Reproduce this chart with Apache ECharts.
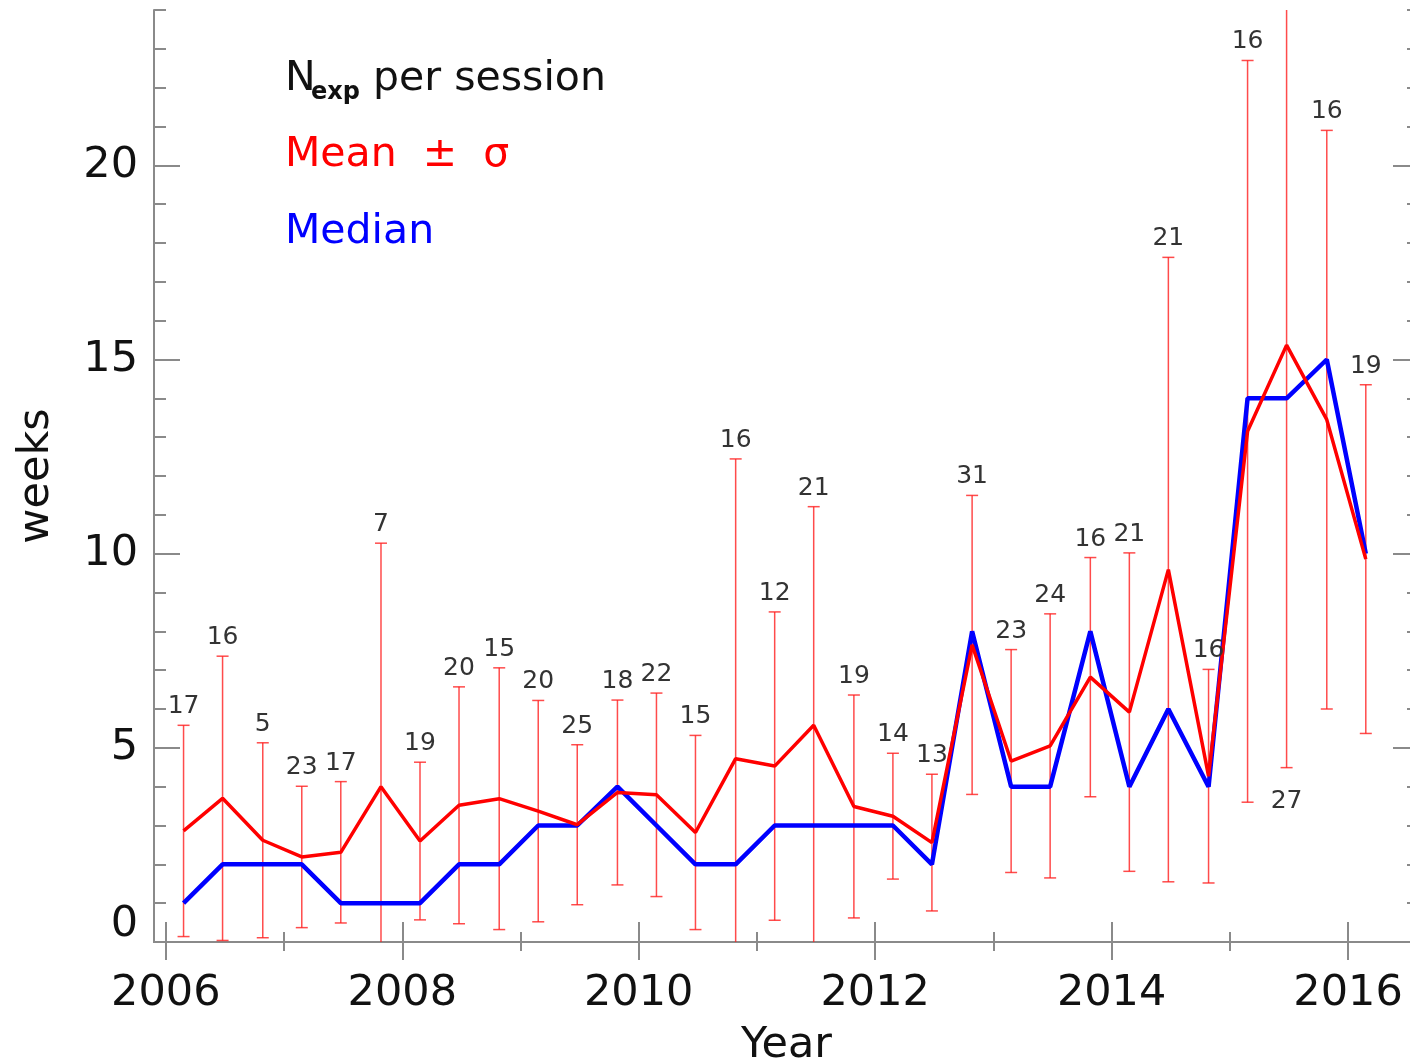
<!DOCTYPE html>
<html>
<head>
<meta charset="utf-8">
<script src="https://cdn.jsdelivr.net/npm/echarts@6/dist/echarts.min.js"></script>
<style>
html, body { margin: 0; padding: 0; background: #ffffff; }
#chart { width: 1410px; height: 1062px; }
</style>
</head>
<body>
<div id="chart"></div>
<script>
// Session dates (decimal years, centre of each 4-month session)
const sessionYears = [2006.15, 2006.48, 2006.82, 2007.15, 2007.48, 2007.82, 2008.15, 2008.48, 2008.82,
  2009.15, 2009.48, 2009.82, 2010.15, 2010.48, 2010.82, 2011.15, 2011.48, 2011.82, 2012.15, 2012.48,
  2012.82, 2013.15, 2013.48, 2013.82, 2014.15, 2014.48, 2014.82, 2015.15, 2015.48, 2015.82, 2016.15];
// Mean waiting time in weeks
const meanWeeks = [2.86, 3.70, 2.62, 2.19, 2.31, 4.00, 2.60, 3.52, 3.69, 3.37, 3.02, 3.85, 3.79, 2.82,
  4.72, 4.53, 5.58, 3.49, 3.24, 2.56, 7.65, 4.66, 5.05, 6.82, 5.92, 9.59, 4.27, 13.15, 15.37, 13.45, 9.86];
// Standard deviation in weeks
const sigmaWeeks = [2.72, 3.66, 2.51, 1.82, 1.82, 6.27, 2.03, 3.05, 3.37, 2.85, 2.06, 2.38, 2.62, 2.50,
  7.72, 3.97, 5.63, 2.87, 1.62, 1.76, 3.85, 2.87, 3.40, 3.08, 4.10, 8.04, 2.75, 9.55, 10.88, 7.45, 4.49];
// Median waiting time in weeks
const medianWeeks = [1, 2, 2, 2, 1, 1, 1, 2, 2, 3, 3, 4, 3, 2, 2, 3, 3, 3, 3, 2, 8, 4, 4, 8, 4, 6, 4, 14, 14, 15, 10];
// Number of exposures per session
const nExp = [17, 16, 5, 23, 17, 7, 19, 20, 15, 20, 25, 18, 22, 15, 16, 12, 21, 19, 14, 13, 31, 23, 24, 16,
  21, 21, 16, 16, 27, 16, 19];

// Tick positions
const xMajorTicks = [2006, 2008, 2010, 2012, 2014, 2016];
const xMinorTicks = [2007, 2009, 2011, 2013, 2015];
const yMajorTicks = [0, 5, 10, 15, 20];
const yMinorTicks = [1, 2, 3, 4, 6, 7, 8, 9, 11, 12, 13, 14, 16, 17, 18, 19, 21, 22, 23, 24];

const X_MIN = 2005.9, X_MAX = 2016.6, Y_MIN = 0, Y_MAX = 24;
const AXIS_GRAY = '#8a8a8a';
const FONT = '"DejaVu Sans", sans-serif';

const errData = sessionYears.map((y, i) => [y, meanWeeks[i] - sigmaWeeks[i], meanWeeks[i] + sigmaWeeks[i], nExp[i]]);

function tickAxis(pos, ticks, len, showLine, extra) {
  const horiz = pos === 'top' || pos === 'bottom';
  return Object.assign({
    type: 'value', position: pos,
    min: horiz ? X_MIN : Y_MIN,
    max: horiz ? X_MAX : Y_MAX,
    axisLine: { show: showLine, lineStyle: { color: AXIS_GRAY, width: 2 } },
    axisTick: { show: true, inside: true, length: len, customValues: ticks, lineStyle: { color: AXIS_GRAY, width: 2 } },
    axisLabel: { show: false },
    splitLine: { show: false }
  }, extra || {});
}

const chart = echarts.init(document.getElementById('chart'), null, { renderer: 'canvas' });

chart.setOption({
  animation: false,
  backgroundColor: '#ffffff',
  grid: { left: 154, top: 10, right: -9, bottom: 120, containLabel: false, outerBoundsMode: 'none' },
  xAxis: [
    tickAxis('bottom', xMajorTicks, 20, true, {
      name: 'Year', nameLocation: 'middle', nameGap: 82,
      nameTextStyle: { fontSize: 43, fontFamily: FONT, color: '#111' },
      axisLabel: { show: true, customValues: xMajorTicks, margin: 30, fontSize: 43, fontFamily: FONT, color: '#111',
        formatter: v => String(Math.round(v)) }
    }),
    tickAxis('bottom', xMinorTicks, 10, false),
    tickAxis('top', xMajorTicks, 18, true),
    tickAxis('top', xMinorTicks, 9, false)
  ],
  yAxis: [
    tickAxis('left', yMajorTicks, 26, true, {
      name: 'weeks', nameLocation: 'middle', nameGap: 96,
      nameTextStyle: { fontSize: 43, fontFamily: FONT, color: '#111' },
      axisLabel: { show: true, customValues: yMajorTicks, margin: 16, fontSize: 43, fontFamily: FONT, color: '#111',
        formatter: v => v === 0 ? '{z|0}' : String(v),
        rich: { z: { fontSize: 43, fontFamily: FONT, color: '#111', padding: [0, 0, 34, 0] } } }
    }),
    tickAxis('left', yMinorTicks, 12, false),
    tickAxis('right', yMajorTicks, 26, true),
    tickAxis('right', yMinorTicks, 12, false)
  ],
  graphic: [
    { type: 'text', x: 285, y: 79, style: { text: 'N', font: '41px ' + FONT, fill: '#111', verticalAlign: 'middle' } },
    { type: 'text', x: 311, y: 93, style: { text: 'exp', font: '600 24px ' + FONT, fill: '#111', verticalAlign: 'middle' } },
    { type: 'text', x: 373, y: 79, style: { text: 'per session', font: '41px ' + FONT, fill: '#111', verticalAlign: 'middle' } },
    { type: 'text', x: 285, y: 155, style: { text: 'Mean  \u00b1  \u03c3', font: '41px ' + FONT, fill: '#ff0000', verticalAlign: 'middle' } },
    { type: 'text', x: 285, y: 232, style: { text: 'Median', font: '41px ' + FONT, fill: '#0000ff', verticalAlign: 'middle' } }
  ],
  series: [
    {
      // mean ± sigma error bars
      type: 'custom', xAxisIndex: 0, yAxisIndex: 0, clip: true, z: 1,
      data: errData,
      renderItem: function (params, api) {
        const x = api.value(0);
        const lo = api.coord([x, api.value(1)]);
        const hi = api.coord([x, api.value(2)]);
        const cap = 6;
        const style = { stroke: 'rgba(255,30,30,0.8)', lineWidth: 1.5 };
        return {
          type: 'group', children: [
            { type: 'line', shape: { x1: lo[0], y1: lo[1], x2: hi[0], y2: hi[1] }, style: style },
            { type: 'line', shape: { x1: hi[0] - cap, y1: hi[1], x2: hi[0] + cap, y2: hi[1] }, style: style },
            { type: 'line', shape: { x1: lo[0] - cap, y1: lo[1], x2: lo[0] + cap, y2: lo[1] }, style: style }
          ]
        };
      }
    },
    {
      // exposure counts above each bar (below it when the bar leaves the frame)
      type: 'custom', xAxisIndex: 0, yAxisIndex: 0, clip: false, z: 4,
      data: errData,
      renderItem: function (params, api) {
        const x = api.value(0);
        const loV = api.value(1), hiV = api.value(2);
        const n = String(api.value(3));
        const above = hiV <= Y_MAX;
        const p = above ? api.coord([x, hiV]) : api.coord([x, loV]);
        return {
          type: 'text', x: p[0], y: above ? p[1] - 6 : p[1] + 21,
          style: { text: n, font: '25px ' + FONT, fill: '#333333', align: 'center', verticalAlign: above ? 'bottom' : 'top' }
        };
      }
    },
    {
      name: 'Median', type: 'line', xAxisIndex: 0, yAxisIndex: 0, z: 2,
      data: sessionYears.map((y, i) => [y, medianWeeks[i]]),
      showSymbol: false, lineStyle: { color: '#0000ff', width: 4.5 }
    },
    {
      name: 'Mean', type: 'line', xAxisIndex: 0, yAxisIndex: 0, z: 3,
      data: sessionYears.map((y, i) => [y, meanWeeks[i]]),
      showSymbol: false, lineStyle: { color: '#ff0000', width: 3.5 }
    }
  ]
});
</script>
</body>
</html>
